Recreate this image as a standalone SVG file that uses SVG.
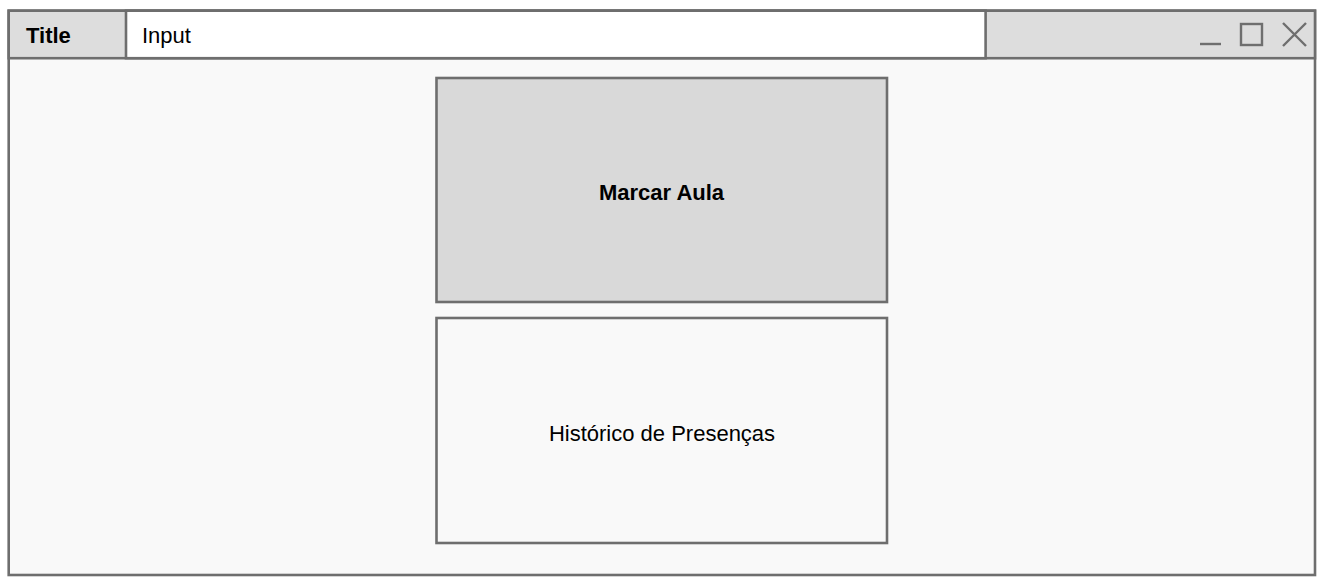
<svg xmlns="http://www.w3.org/2000/svg" width="1329" height="585" viewBox="0 0 1329 585">
<style>
.f{stroke:#6e6e6e;stroke-width:2.6}
.t{font-family:"Liberation Sans",Arial,sans-serif;font-size:22px;fill:#000}
.b{font-weight:bold}
</style>
<rect width="1329" height="585" fill="#ffffff"/>
<g id="window">
<rect class="f" x="8.7" y="10.7" width="1306.3" height="564.3" fill="#f9f9f9"/>
<rect class="f" x="8.7" y="10.7" width="1306.3" height="47.5" fill="#dddddd"/>
<rect class="f" x="126" y="10.7" width="859.6" height="47.5" fill="#ffffff"/>
<text class="t b" x="26" y="43">Title</text>
<text class="t" x="142" y="43">Input</text>
<g fill="none" stroke="#6e6e6e" stroke-width="2.4">
<line x1="1200" y1="44" x2="1221" y2="44"/>
<rect x="1241" y="24" width="21" height="21"/>
<path d="M1283 23 L1306 46 M1306 23 L1283 46"/>
</g>
</g>
<g id="marcar">
<rect class="f" x="436.5" y="78" width="450.5" height="224" fill="#d9d9d9"/>
<text class="t b" x="661.5" y="200" text-anchor="middle">Marcar Aula</text>
</g>
<g id="historico">
<rect class="f" x="436.5" y="318" width="450.5" height="225" fill="#f9f9f9"/>
<text class="t" x="662" y="441" text-anchor="middle">Histórico de Presenças</text>
</g>
<g id="connectors"/>
</svg>
